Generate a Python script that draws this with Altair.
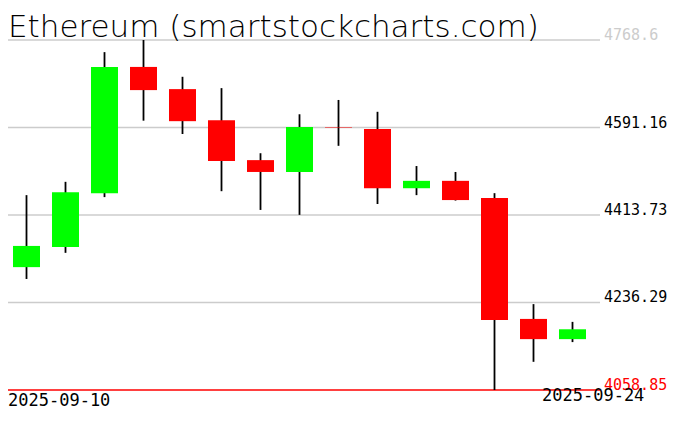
import altair as alt
import pandas as pd

dates = ["2025-09-10", "2025-09-11", "2025-09-12", "2025-09-13", "2025-09-14",
         "2025-09-15", "2025-09-16", "2025-09-17", "2025-09-18", "2025-09-19",
         "2025-09-20", "2025-09-21", "2025-09-22", "2025-09-23", "2025-09-24"]
opens = [4308, 4349, 4458, 4714, 4669, 4606, 4525, 4501, 4592, 4588, 4468, 4483, 4448, 4203, 4162]
highs = [4454, 4481, 4744, 4768.6, 4694, 4671, 4539, 4618, 4647, 4623, 4513, 4501, 4458, 4233, 4197]
lows = [4284, 4337, 4450, 4605, 4578, 4462, 4424, 4414, 4554, 4436, 4454, 4443, 4058.85, 4116, 4156]
closes = [4351, 4460, 4714, 4667, 4604, 4523, 4501, 4592, 4591, 4468, 4483, 4444, 4201, 4162, 4182]

tick_values = [4768.6, 4591.16, 4413.73, 4236.29, 4058.85]
tick_labels = ["4768.6", "4591.16", "4413.73", "4236.29", "4058.85"]
tick_colors = ["#cccccc", "#000000", "#000000", "#000000", "#ff0000"]

date_labels = ["2025-09-10", "2025-09-24"]
title_text = "Ethereum (smartstockcharts.com)"

df = pd.DataFrame({"date": dates, "open": opens, "high": highs, "low": lows, "close": closes})
df["day"] = pd.to_datetime(df["date"]).dt.day
ticks = pd.DataFrame({"v": tick_values, "label": tick_labels, "color": tick_colors})

FONT = "DejaVu Sans Mono"

yscale = alt.Scale(domain=[4058.85, 4768.6], range=[382, 32], nice=False, zero=False, padding=0)
xscale = alt.Scale(domain=[int(df["day"].min()), int(df["day"].max())],
                   range=[18.5, 564.5], nice=False, zero=False, padding=0)

base = alt.Chart(df)

grid = alt.Chart(ticks).mark_rule(strokeWidth=1.3).encode(
    x=alt.value(0), x2=alt.value(592),
    y=alt.Y("v:Q", scale=yscale, axis=None),
    color=alt.condition("datum.label == '4058.85'", alt.value("#ff0000"), alt.value("#cccccc")),
)

tick_text = alt.Chart(ticks).mark_text(align="left", baseline="alphabetic", font=FONT,
                                       fontSize=15).encode(
    x=alt.value(596),
    y=alt.Y("v:Q", scale=yscale, axis=None),
    text="label:N",
    color=alt.Color("color:N", scale=None),
)

wicks = base.mark_rule(strokeWidth=1.8, color="black").encode(
    x=alt.X("day:Q", scale=xscale, axis=None),
    y=alt.Y("low:Q", scale=yscale, axis=None),
    y2="high:Q",
)

bodies = base.mark_bar(size=27).encode(
    x=alt.X("day:Q", scale=xscale, axis=None),
    y=alt.Y("open:Q", scale=yscale, axis=None),
    y2="close:Q",
    color=alt.condition("datum.open < datum.close", alt.value("#00ff00"), alt.value("#ff0000")),
)

dl = pd.DataFrame({"label": date_labels, "px": [0, 534], "py": [398, 393]})
date_text = alt.Chart(dl).mark_text(align="left", baseline="alphabetic", font=FONT,
                                    fontSize=17, color="black").encode(
    x=alt.X("px:Q", scale=None, axis=None),
    y=alt.Y("py:Q", scale=None, axis=None),
    text="label:N",
)

title = alt.Chart(pd.DataFrame({"t": [title_text]})).mark_text(
    align="left", baseline="alphabetic", font='"DejaVu Sans ExtraLight", "DejaVu Sans"',
    fontSize=31, fontWeight=200, color="black").encode(
    x=alt.value(0), y=alt.value(29), text="t:N")

chart = alt.layer(grid, tick_text, wicks, bodies, date_text, title).resolve_scale(
    y="independent"
).properties(
    width=660, height=415, autosize=alt.AutoSizeParams(type="none"), padding=0,
    background="white",
).configure_view(stroke=None)

chart.save("out.html", embed_options={"renderer": "svg", "actions": False})
